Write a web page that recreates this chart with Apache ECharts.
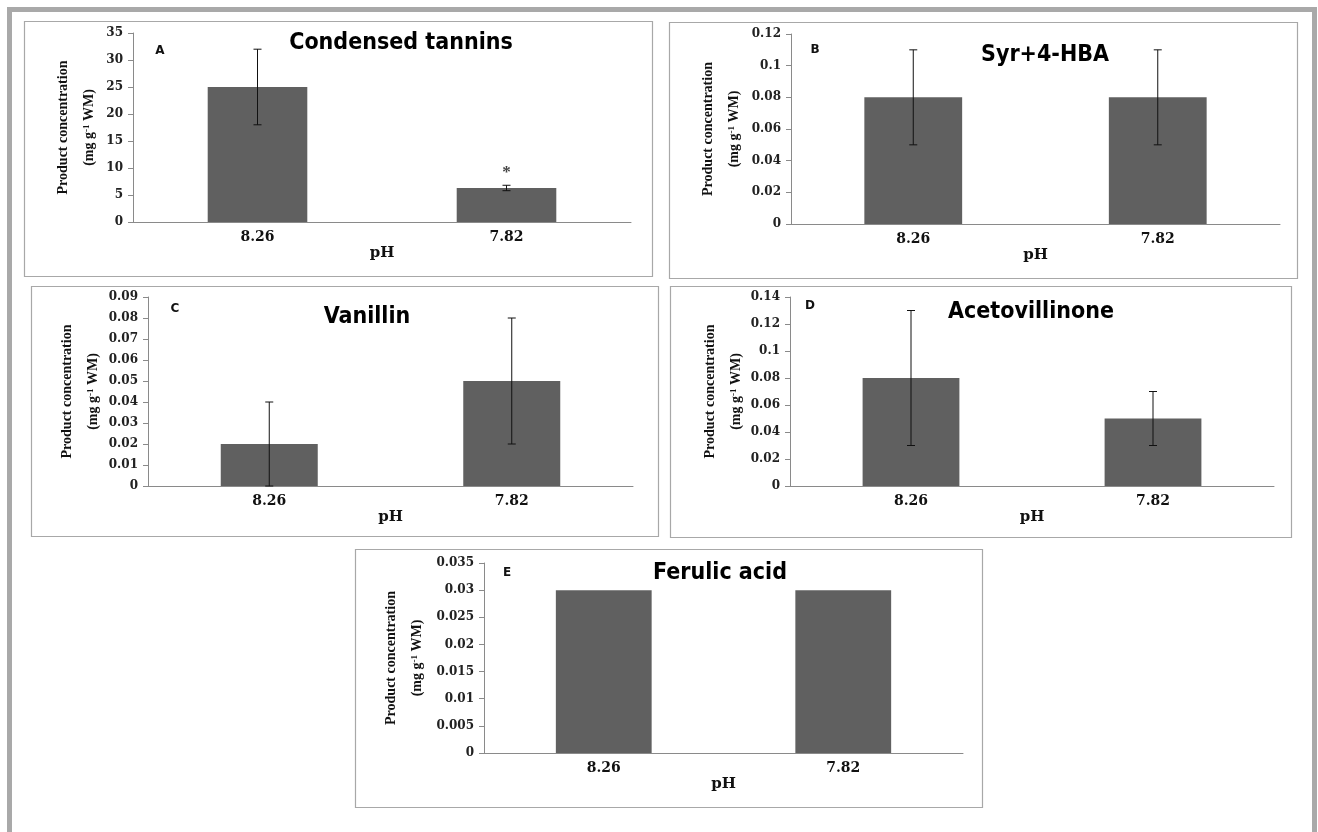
<!DOCTYPE html>
<html>
<head>
<meta charset="utf-8">
<title>Product concentration at two pH levels</title>
<script src="https://cdn.jsdelivr.net/npm/echarts@6/dist/echarts.min.js"></script>
<style>
  html, body { margin: 0; padding: 0; background: #fff; }
  #main { width: 1318px; height: 832px; }
</style>
</head>
<body>
<div id="main"></div>
<script>
// pH treatments (x axis categories)
const phLabels = ['8.26', '7.82'];

// panel titles and letters
const titles = ['Condensed tannins', 'Syr+4-HBA', 'Vanillin', 'Acetovillinone', 'Ferulic acid'];
const letters = ['A', 'B', 'C', 'D', 'E'];

// mean concentration (mg g-1 WM) with error bar ends
const tanninMean = [25, 6.3];
const tanninLow = [18, 5.8];
const tanninHigh = [32, 6.8];
const tanninSig = ['', '*'];

const syrMean = [0.08, 0.08];
const syrLow = [0.05, 0.05];
const syrHigh = [0.11, 0.11];

const vanillinMean = [0.02, 0.05];
const vanillinLow = [0, 0.02];
const vanillinHigh = [0.04, 0.08];

const acetoMean = [0.08, 0.05];
const acetoLow = [0.03, 0.03];
const acetoHigh = [0.13, 0.07];

const ferulicMean = [0.03, 0.03];

// y axis tick range per panel
const yMax = [35, 0.12, 0.09, 0.14, 0.035];
const yStep = [5, 0.02, 0.01, 0.02, 0.005];

// layout: plot areas, frames, title / letter spots, y-name gap
const grids = [
  { left: 133, top: 33, width: 498, height: 189 },
  { left: 791, top: 34, width: 489, height: 190 },
  { left: 148, top: 297, width: 485, height: 189 },
  { left: 790, top: 297, width: 484, height: 189 },
  { left: 484, top: 563, width: 479, height: 190 }
];
const frames = [
  [24, 21, 628, 255],
  [669, 22, 628, 256],
  [31, 286, 627, 250],
  [670, 286, 621, 251],
  [355, 549, 627, 258]
];
const titlePos = [[401, 43], [1045, 55], [367, 317], [1031, 312], [720, 573]];
const letterPos = [[160, 51], [815, 50], [175, 309], [810, 306], [507, 573]];
const nameGaps = [31, 44, 42, 41, 54];

const barColor = '#606060';
const axisGray = '#8a8a8a';

function errorBarItem(params, api) {
  const x = api.value(0);
  const lo = api.coord([x, api.value(1)]);
  const hi = api.coord([x, api.value(2)]);
  const cap = 4;
  const style = { stroke: '#111', lineWidth: 1 };
  return {
    type: 'group',
    children: [
      { type: 'line', shape: { x1: hi[0], y1: hi[1], x2: lo[0], y2: lo[1] }, style: style },
      { type: 'line', shape: { x1: hi[0] - cap, y1: hi[1], x2: hi[0] + cap, y2: hi[1] }, style: style },
      { type: 'line', shape: { x1: lo[0] - cap, y1: lo[1], x2: lo[0] + cap, y2: lo[1] }, style: style }
    ]
  };
}

function errData(low, high) {
  return low.map((l, i) => [i, l, high[i]]);
}

const means = [tanninMean, syrMean, vanillinMean, acetoMean, ferulicMean];
const errs = [
  errData(tanninLow, tanninHigh),
  errData(syrLow, syrHigh),
  errData(vanillinLow, vanillinHigh),
  errData(acetoLow, acetoHigh),
  null
];

const xAxis = [];
const yAxis = [];
const series = [];

grids.forEach((g, i) => {
  xAxis.push({
    type: 'category',
    gridIndex: i,
    data: phLabels,
    name: 'pH',
    nameLocation: 'middle',
    nameGap: 24,
    nameTextStyle: { fontFamily: 'DejaVu Serif', fontWeight: 'bold', fontSize: 15, color: '#111' },
    axisLine: { lineStyle: { color: axisGray, width: 1 } },
    axisTick: { show: false },
    axisLabel: { margin: 8, fontFamily: 'DejaVu Serif', fontWeight: 'bold', fontSize: 14, color: '#111' }
  });
  yAxis.push({
    type: 'value',
    gridIndex: i,
    min: 0,
    max: yMax[i],
    interval: yStep[i],
    name: '{a|Product concentration}\n{a|(mg g}{s|-1}{a| WM)}',
    nameLocation: 'middle',
    nameRotate: 90,
    nameGap: nameGaps[i],
    nameTextStyle: {
      rich: {
        a: { fontFamily: 'Liberation Serif', fontWeight: 'bold', fontSize: 14, color: '#111', lineHeight: 26 },
        s: { fontFamily: 'Liberation Serif', fontWeight: 'bold', fontSize: 9, color: '#111', lineHeight: 26, verticalAlign: 'top', padding: [6, 0, 0, 0] }
      }
    },
    splitLine: { show: false },
    axisLine: { show: true, lineStyle: { color: axisGray, width: 1 } },
    axisTick: { show: true, length: 5, lineStyle: { color: axisGray } },
    axisLabel: {
      margin: 10,
      fontFamily: 'DejaVu Serif',
      fontWeight: 'bold',
      fontSize: 12,
      color: '#222',
      formatter: v => String(parseFloat(v.toFixed(4)))
    }
  });
  series.push({
    type: 'bar',
    xAxisIndex: i,
    yAxisIndex: i,
    data: means[i],
    barWidth: '40%',
    itemStyle: { color: barColor },
    silent: true
  });
  if (errs[i]) {
    series.push({
      type: 'custom',
      xAxisIndex: i,
      yAxisIndex: i,
      data: errs[i],
      encode: { x: 0, y: [1, 2] },
      renderItem: errorBarItem,
      z: 5,
      silent: true
    });
  }
});

// significance star over the tannin bars
series.push({
  type: 'scatter',
  xAxisIndex: 0,
  yAxisIndex: 0,
  symbolSize: 0,
  silent: true,
  data: tanninSig.map((s, i) => s ? { value: [i, tanninHigh[i]], label: { formatter: s } } : null).filter(Boolean),
  label: {
    show: true,
    position: 'top',
    distance: 4,
    fontFamily: 'Liberation Serif',
    fontWeight: 'bold',
    fontSize: 17,
    color: '#111'
  }
});

const graphic = [
  {
    type: 'rect', z: 0, silent: true,
    shape: { x: 9.5, y: 9.5, width: 1305, height: 1000 },
    style: { fill: 'none', stroke: '#a9a9a9', lineWidth: 5 }
  }
];
frames.forEach(f => {
  graphic.push({
    type: 'rect', z: 0, silent: true,
    shape: { x: f[0] + 0.5, y: f[1] + 0.5, width: f[2], height: f[3] },
    style: { fill: '#fff', stroke: '#a8a8a8', lineWidth: 1.2 }
  });
});
titles.forEach((t, i) => {
  graphic.push({
    type: 'text', z: 10, silent: true,
    x: titlePos[i][0], y: titlePos[i][1],
    style: {
      text: t, fill: '#000',
      font: 'bold 23px "DejaVu Sans Condensed", "DejaVu Sans", sans-serif',
      align: 'center', verticalAlign: 'middle',
      textAlign: 'center', textVerticalAlign: 'middle'
    }
  });
});
letters.forEach((t, i) => {
  graphic.push({
    type: 'text', z: 10, silent: true,
    x: letterPos[i][0], y: letterPos[i][1],
    style: {
      text: t, fill: '#111',
      font: 'bold 12px "DejaVu Sans", sans-serif',
      align: 'center', verticalAlign: 'middle',
      textAlign: 'center', textVerticalAlign: 'middle'
    }
  });
});

const chart = echarts.init(document.getElementById('main'), null, { renderer: 'canvas' });
chart.setOption({
  animation: false,
  backgroundColor: '#fff',
  grid: grids.map(g => Object.assign({ containLabel: false, outerBoundsMode: 'none' }, g)),
  xAxis: xAxis,
  yAxis: yAxis,
  series: series,
  graphic: graphic
});
</script>
</body>
</html>
